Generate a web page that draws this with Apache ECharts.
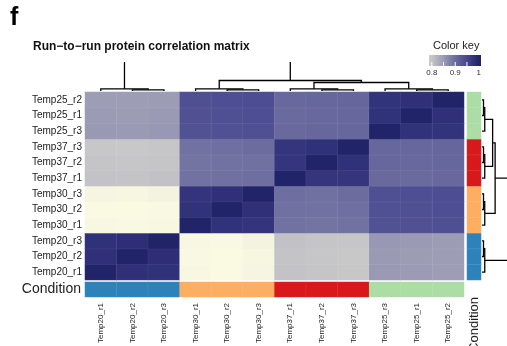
<!DOCTYPE html>
<html><head><meta charset="utf-8">
<script src="https://cdn.jsdelivr.net/npm/echarts@6/dist/echarts.min.js"></script>
<style>html,body{margin:0;padding:0;background:#fff}#c{width:507px;height:346px}</style>
</head><body><div id="c"></div>
<script>
// Sample order (columns left->right; rows bottom->top)
const samples = ['Temp20_r1','Temp20_r2','Temp20_r3','Temp30_r1','Temp30_r2','Temp30_r3',
                 'Temp37_r1','Temp37_r2','Temp37_r3','Temp25_r3','Temp25_r1','Temp25_r2'];
const sampleGroups = ['Temp20','Temp20','Temp20','Temp30','Temp30','Temp30',
                      'Temp37','Temp37','Temp37','Temp25','Temp25','Temp25'];
const groupNames = ['Temp20','Temp30','Temp37','Temp25'];
const groupColors = ['#2b83ba','#fdae61','#d7191c','#abdda4'];

// Correlation matrix (symmetric, same order as samples)
const corr = [
 [1.000,0.982,0.980, 0.706,0.703,0.712, 0.801,0.798,0.795, 0.852,0.850,0.848],
 [0.982,1.000,0.985, 0.704,0.702,0.710, 0.800,0.797,0.794, 0.851,0.849,0.847],
 [0.980,0.985,1.000, 0.708,0.705,0.716, 0.803,0.799,0.797, 0.853,0.851,0.849],
 [0.706,0.704,0.708, 1.000,0.978,0.976, 0.893,0.891,0.894, 0.934,0.936,0.937],
 [0.703,0.702,0.705, 0.978,1.000,0.982, 0.895,0.893,0.896, 0.935,0.937,0.939],
 [0.712,0.710,0.716, 0.976,0.982,1.000, 0.897,0.895,0.899, 0.937,0.939,0.941],
 [0.801,0.800,0.803, 0.893,0.895,0.897, 1.000,0.975,0.975, 0.903,0.902,0.904],
 [0.798,0.797,0.799, 0.891,0.893,0.895, 0.975,1.000,0.980, 0.905,0.904,0.906],
 [0.795,0.794,0.797, 0.894,0.896,0.899, 0.975,0.980,1.000, 0.906,0.905,0.907],
 [0.852,0.851,0.853, 0.934,0.935,0.937, 0.903,0.905,0.906, 1.000,0.978,0.977],
 [0.850,0.849,0.851, 0.936,0.937,0.939, 0.902,0.904,0.905, 0.978,1.000,0.982],
 [0.848,0.847,0.849, 0.937,0.939,0.941, 0.904,0.906,0.907, 0.977,0.982,1.000]
];

// hclust-style merges: negative = leaf (1-based, in sample order), positive = earlier merge
const merges = [
 [-2,-3,0.012],
 [-1, 1,0.022],
 [-5,-6,0.012],
 [-4, 3,0.022],
 [-8,-9,0.012],
 [-7, 5,0.022],
 [-11,-12,0.012],
 [-10, 7,0.022],
 [ 6, 8,0.085],
 [ 4, 9,0.105],
 [ 2,10,0.500]
];

const colorKeyTicks = [0.8, 0.9, 1];
const palette = ['#fbfbe4','#e2e2d6','#c4c4c7','#9b9bb5','#6b6b9f','#45468f','#22246a'];
const palMin = 0.7, palMax = 1.0;
const keyMin = 0.788, keyMax = 1.01;

// ---- build ----
const heatData = [];
for (let r = 0; r < samples.length; r++)
  for (let c = 0; c < samples.length; c++)
    heatData.push([c, r, corr[r][c]]);
const gIdx = sampleGroups.map(g => groupNames.indexOf(g));
const condBottom = samples.map((s, i) => [i, 0, gIdx[i]]);
const condRight = samples.map((s, i) => [0, i, gIdx[i]]);

const nodePos = [], nodeH = [], links = [];
function posOf(k){ return k < 0 ? -k - 1 : nodePos[k - 1]; }
function hOf(k){ return k < 0 ? 0 : nodeH[k - 1]; }
merges.forEach(m => {
  const pa = posOf(m[0]), pb = posOf(m[1]);
  links.push([pa, hOf(m[0]), pb, hOf(m[1]), m[2]]);
  nodePos.push((pa + pb) / 2); nodeH.push(m[2]);
});

function dendro(horizontal){
  return function(params, api){
    const xa = api.value(0), ha = api.value(1), xb = api.value(2), hb = api.value(3), h = api.value(4);
    const pt = (p, t) => horizontal ? api.coord([t, p]) : api.coord([p, t]);
    return {type:'polyline', shape:{points:[pt(xa,ha),pt(xa,h),pt(xb,h),pt(xb,hb)]},
            style:{stroke:'#000', lineWidth:1.3, fill:null}};
  };
}

function hex(h){ return [1,3,5].map(i => parseInt(h.substr(i,2),16)); }
function colorAt(v){
  let t = (v - palMin) / (palMax - palMin) * (palette.length - 1);
  t = Math.max(0, Math.min(palette.length - 1, t));
  const i = Math.min(palette.length - 2, Math.floor(t)), f = t - i;
  const a = hex(palette[i]), b = hex(palette[i+1]);
  return 'rgb(' + a.map((x, k) => Math.round(x + (b[k] - x) * f)).join(',') + ')';
}
const FF = '"Liberation Sans", Arial, sans-serif';
const keyX = 429, keyW = 52, keyY = 55, keyH = 11;
const keyStops = [];
for (let k = 0; k <= 20; k++) {
  const v = keyMin + (keyMax - keyMin) * k / 20;
  keyStops.push({offset: k / 20, color: colorAt(v)});
}
const keyPos = v => keyX + (v - keyMin) / (keyMax - keyMin) * keyW;
const keyGraphics = [
  {type:'text', left:433, top:40, style:{text:'Color key', font:'11px ' + FF, fill:'#222'}},
  {type:'rect', shape:{x:keyX, y:keyY, width:keyW, height:keyH},
   style:{fill:new echarts.graphic.LinearGradient(0,0,1,0,keyStops)}}
];
[0.8,0.85,0.9,0.95].forEach(v => keyGraphics.push({type:'line',
  shape:{x1:keyPos(v), y1:keyY+keyH-4, x2:keyPos(v), y2:keyY+keyH}, style:{stroke:'#fff', lineWidth:1}}));
colorKeyTicks.forEach(v => keyGraphics.push({type:'text', x:keyPos(v), y:keyY+keyH+3,
  style:{text:String(v), font:'8px ' + FF, fill:'#333', textAlign:'center'}}));

const chart = echarts.init(document.getElementById('c'), null, {renderer:'canvas'});
const hidden = {axisLine:{show:false}, axisTick:{show:false}, splitLine:{show:false}, axisLabel:{show:false}};
const G = {outerBoundsMode:'none', containLabel:false};
chart.setOption({
  animation:false,
  backgroundColor:'#fff',
  title:[
    {text:'f', left:5, top:1, textStyle:{fontSize:25, fontWeight:'bold', color:'#000', fontFamily:FF}},
    {text:'Run\u2212to\u2212run protein correlation matrix', left:28, top:36,
     textStyle:{fontSize:12, fontWeight:'bold', color:'#111', fontFamily:FF}}
  ],
  graphic: keyGraphics,
  grid:[
    {...G, left:85, top:92, width:379, height:188},   // 0 heatmap
    {...G, left:85, top:282, width:379, height:15},   // 1 bottom condition
    {...G, left:467, top:92, width:14, height:188},   // 2 right condition
    {...G, left:85, top:62, width:379, height:29},    // 3 column dendrogram
    {...G, left:482, top:92, width:25, height:188}    // 4 row dendrogram
  ],
  xAxis:[
    {gridIndex:0, type:'category', data:samples, ...hidden},
    {gridIndex:1, type:'category', data:samples, axisLine:{show:false}, axisTick:{show:false},
     axisLabel:{rotate:90, fontSize:8, margin:6, color:'#222', fontFamily:FF}},
    {gridIndex:2, type:'category', data:['Condition'], axisLine:{show:false}, axisTick:{show:false},
     axisLabel:{rotate:90, fontSize:13, margin:17, color:'#222', fontFamily:FF}},
    {gridIndex:3, type:'value', min:-0.5, max:11.5, ...hidden},
    {gridIndex:4, type:'value', min:0, max:0.2, ...hidden}
  ],
  yAxis:[
    {gridIndex:0, type:'category', data:samples, axisLine:{show:false}, axisTick:{show:false},
     axisLabel:{fontSize:10, margin:3, color:'#222', fontFamily:FF}},
    {gridIndex:1, type:'category', data:['Condition'], axisLine:{show:false}, axisTick:{show:false},
     axisLabel:{fontSize:14, margin:4, color:'#222', fontFamily:FF}},
    {gridIndex:2, type:'category', data:samples, ...hidden},
    {gridIndex:3, type:'value', min:0, max:0.29, ...hidden},
    {gridIndex:4, type:'value', min:-0.5, max:11.5, ...hidden}
  ],
  visualMap:[
    {type:'continuous', show:false, seriesIndex:0, dimension:2, min:palMin, max:palMax, inRange:{color:palette}},
    {type:'piecewise', show:false, seriesIndex:[1,2], dimension:2,
     pieces:groupNames.map((g,i)=>({value:i, color:groupColors[i]}))}
  ],
  series:[
    {type:'heatmap', xAxisIndex:0, yAxisIndex:0, data:heatData,
     itemStyle:{borderWidth:0.5, borderColor:'rgba(255,255,255,0.12)'}},
    {type:'heatmap', xAxisIndex:1, yAxisIndex:1, data:condBottom,
     itemStyle:{borderWidth:0.5, borderColor:'rgba(255,255,255,0.15)'}},
    {type:'heatmap', xAxisIndex:2, yAxisIndex:2, data:condRight,
     itemStyle:{borderWidth:0.5, borderColor:'rgba(255,255,255,0.15)'}},
    {type:'custom', xAxisIndex:3, yAxisIndex:3, clip:true, renderItem:dendro(false), data:links},
    {type:'custom', xAxisIndex:4, yAxisIndex:4, clip:true, renderItem:dendro(true), data:links}
  ]
});
</script></body></html>
